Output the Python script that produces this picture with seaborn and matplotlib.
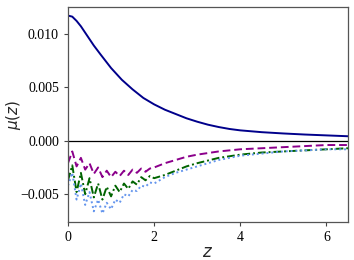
import numpy as np
import pandas as pd
import matplotlib
matplotlib.use("Agg")
import matplotlib.pyplot as plt
import seaborn as sns

# fiducial mu(z)
z_top = [0.0, 0.1, 0.2, 0.3, 0.4, 0.5, 0.6, 0.75, 1.0, 1.25, 1.5, 1.75, 2.0, 2.25, 2.5,
         2.75, 3.0, 3.25, 3.5, 3.75, 4.0, 4.5, 5.0, 5.5, 6.0, 6.5]
mu_top = [0.0117, 0.0116, 0.0112, 0.0107, 0.0101, 0.0095, 0.0089, 0.0081, 0.0068, 0.0057,
          0.0048, 0.0040, 0.0034, 0.0029, 0.0025, 0.0021, 0.00178, 0.0015, 0.00128, 0.0011,
          0.00097, 0.0008, 0.00068, 0.00058, 0.0005, 0.00042]

# reconstructed curves (oscillating at low z)
z_low = [0.0, 0.1, 0.2, 0.3, 0.4, 0.5, 0.6, 0.7, 0.8, 0.9, 1.0, 1.1, 1.2, 1.3, 1.4, 1.5,
         1.6, 1.7, 1.8, 1.9, 2.0, 2.25, 2.5, 2.75, 3.0, 3.5, 4.0, 4.5, 5.0, 5.5, 6.0, 6.5]
mu_magenta = [-0.0021, -0.0010, -0.0024, -0.0016, -0.0027, -0.0021, -0.0031, -0.0025, -0.0034,
              -0.0028, -0.0034, -0.0029, -0.0033, -0.0028, -0.0032, -0.0027, -0.0030, -0.0026,
              -0.0029, -0.0026, -0.0025, -0.0021, -0.0018, -0.0015, -0.0013, -0.0010, -0.0008,
              -0.0007, -0.0006, -0.0005, -0.0004, -0.0004]
mu_green = [-0.0037, -0.0023, -0.0048, -0.0030, -0.0050, -0.0035, -0.0053, -0.0040, -0.0055,
            -0.0043, -0.0052, -0.0042, -0.0048, -0.0040, -0.0045, -0.0038, -0.0041, -0.0034,
            -0.0037, -0.0033, -0.0035, -0.0032, -0.0028, -0.0024, -0.0021, -0.0016, -0.0013,
            -0.0011, -0.0010, -0.0009, -0.0008, -0.0007]
mu_blue = [-0.0042, -0.0030, -0.0055, -0.0040, -0.0060, -0.0048, -0.0066, -0.0055, -0.0068,
           -0.0058, -0.0064, -0.0055, -0.0058, -0.0050, -0.0052, -0.0046, -0.0047, -0.0042,
           -0.0043, -0.0039, -0.0040, -0.0034, -0.0030, -0.0027, -0.0024, -0.0018, -0.0014,
           -0.0012, -0.0010, -0.0009, -0.0008, -0.0008]

sns.set_theme(style="ticks")
plt.rcParams['font.family'] = ['Liberation Serif', 'DejaVu Serif']
plt.rcParams['mathtext.fontset'] = 'dejavusans'

fig = plt.figure(figsize=(3.54, 2.6), dpi=100)
ax = fig.add_axes([0.192, 0.146, 0.791, 0.827])

ax.axhline(0, color='black', lw=0.9, zorder=1)
sns.lineplot(x=z_top, y=mu_top, ax=ax, color='#00008B', lw=1.4)
sns.lineplot(x=z_low, y=mu_magenta, ax=ax, color='#8B008B', lw=1.4, linestyle=(0, (4, 2)))
sns.lineplot(x=z_low, y=mu_green, ax=ax, color='#006400', lw=1.4, linestyle=(0, (4, 1.5, 1, 1.5)))
sns.lineplot(x=z_low, y=mu_blue, ax=ax, color='#6495ED', lw=1.4, linestyle=(0, (1, 1.5)))

ax.set_xlim(0, 6.5)
ax.set_ylim(-0.0076, 0.0125)
ax.set_xticks([0, 2, 4, 6])
ax.set_yticks([-0.005, 0.0, 0.005, 0.010])
ax.set_yticklabels(['\u22120.005', '0.000', '0.005', '0.010'])
ax.tick_params(labelsize=10, length=3, width=0.8, colors='#444444', labelcolor='black')
for s in ax.spines.values():
    s.set_color('#555555')
    s.set_linewidth(0.9)
ax.set_xlabel(r'$z$', fontsize=12, labelpad=1)
ax.set_ylabel(r'$\mu(z)$', fontsize=11)
ax.yaxis.set_label_coords(-0.16, 0.5)

fig.savefig('out.png', dpi=100)
